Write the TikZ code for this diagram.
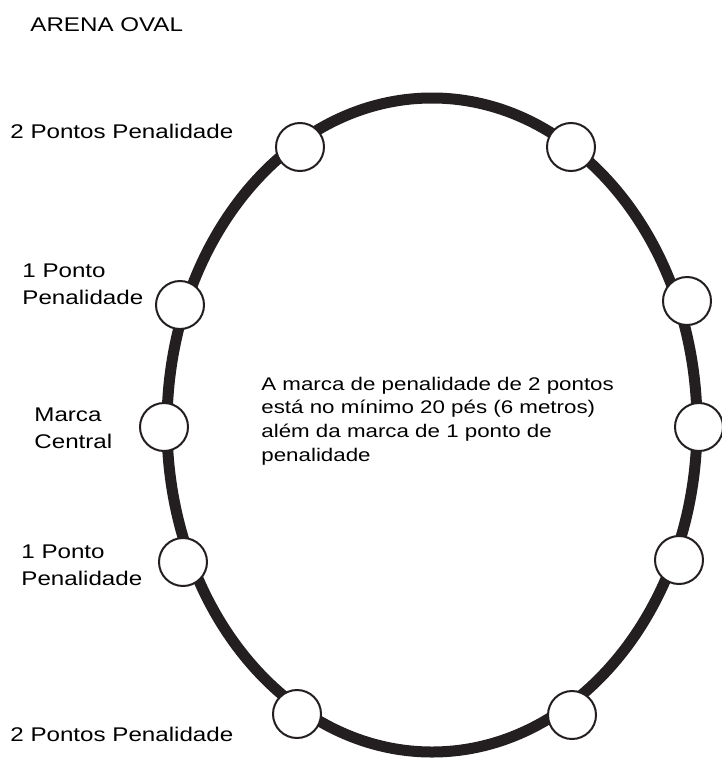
\documentclass[tikz,border=0pt]{standalone}
\usepackage{fontspec}
\setmainfont{Liberation Sans}[FakeStretch=1.22]
\definecolor{trackink}{RGB}{35,31,32}
\begin{document}
\begin{tikzpicture}[x=0.5pt,y=-0.5pt,
        track/.style={line width=5.5pt, draw=trackink},
        spot/.style={circle, draw=trackink, line width=1pt, fill=white, minimum size=24pt, inner sep=0pt},
        lbl/.style={anchor=west, align=left, inner sep=0pt, font=\fontsize{9.9}{13.5}\selectfont},
        note/.style={lbl, font=\fontsize{9.15}{11.8}\selectfont}]
        \useasboundingbox (0,0) rectangle (722,760);
        \draw [track] (432,425) ellipse [x radius=265, y radius=327];
        \node (v0) [spot] at (300,147) {};
        \node (v1) [spot] at (571,147) {};
        \node (v2) [spot] at (180,305) {};
        \node (v3) [spot] at (687,301) {};
        \node (v4) [spot] at (164,427) {};
        \node (v5) [spot] at (699,427) {};
        \node (v6) [spot] at (183,562) {};
        \node (v7) [spot] at (679,560) {};
        \node (v8) [spot] at (297,714) {};
        \node (v9) [spot] at (572,715) {};
        \node (t0) [lbl] at (30,25) {ARENA OVAL};
        \node (t1) [lbl] at (10,131) {2 Pontos Penalidade};
        \node (t2) [lbl] at (22,284) {1 Ponto\\Penalidade};
        \node (t3) [lbl] at (34,428) {Marca\\Central};
        \node (t4) [lbl] at (21,565) {1 Ponto\\Penalidade};
        \node (t5) [lbl] at (10,734) {2 Pontos Penalidade};
        \node (t6) [note] at (261,421) {A marca de penalidade de 2 pontos\\est\'a no m\'inimo 20 p\'es (6 metros)\\al\'em da marca de 1 ponto de\\penalidade};
\end{tikzpicture}
\end{document}
